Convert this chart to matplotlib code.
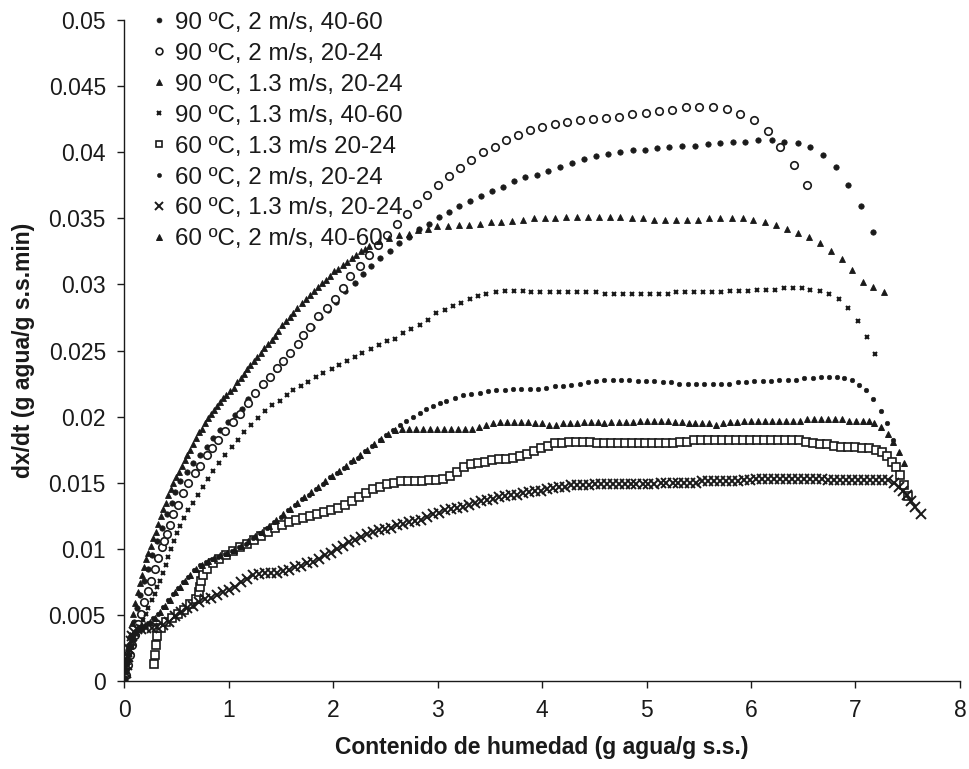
import matplotlib
matplotlib.use("Agg")
import matplotlib.pyplot as plt

plt.rcParams['font.family'] = ['Liberation Sans', 'DejaVu Sans']

labels = ["90 ºC, 2 m/s, 40-60", "90 ºC, 2 m/s, 20-24", "90 ºC, 1.3 m/s, 20-24",
          "90 ºC, 1.3 m/s, 40-60", "60 ºC, 1.3 m/s 20-24", "60 ºC, 2 m/s, 20-24",
          "60 ºC, 1.3 m/s, 20-24", "60 ºC, 2 m/s, 40-60"]

# 90 ºC, 2 m/s, 40-60 (filled dots)
s1_x = [0.010, 0.020, 0.030, 0.050, 0.067, 0.096, 0.124, 0.153, 0.191, 0.229, 0.268, 0.316, 0.363, 0.411,
        0.459, 0.488, 0.535, 0.599, 0.663, 0.727, 0.791, 0.854, 0.918, 0.997, 1.061, 1.125, 1.188, 1.252,
        1.319, 1.386, 1.453, 1.520, 1.587, 1.654, 1.721, 1.797, 1.874, 1.950, 2.033, 2.113, 2.208, 2.288,
        2.368, 2.454, 2.543, 2.632, 2.725, 2.820, 2.919, 3.014, 3.110, 3.206, 3.308, 3.413, 3.518, 3.626,
        3.731, 3.840, 3.951, 4.060, 4.175, 4.286, 4.401, 4.519, 4.630, 4.749, 4.869, 4.988, 5.098, 5.220,
        5.341, 5.466, 5.586, 5.705, 5.825, 5.946, 6.071, 6.198, 6.319, 6.446, 6.565, 6.692, 6.814, 6.931,
        7.053, 7.163]
s1_y = [0.0002, 0.0008, 0.0016, 0.0025, 0.0034, 0.0045, 0.0055, 0.0065, 0.0076, 0.0085, 0.0095, 0.0106,
        0.0116, 0.0126, 0.0135, 0.0143, 0.0151, 0.0158, 0.0165, 0.0171, 0.0177, 0.0184, 0.0190, 0.0196,
        0.0201, 0.0206, 0.0213, 0.0218, 0.0224, 0.0230, 0.0236, 0.0242, 0.0248, 0.0255, 0.0261, 0.0268,
        0.0275, 0.0281, 0.0287, 0.0295, 0.0301, 0.0308, 0.0314, 0.0320, 0.0325, 0.0331, 0.0336, 0.0342,
        0.0346, 0.0351, 0.0355, 0.0359, 0.0363, 0.0367, 0.0371, 0.0374, 0.0378, 0.0381, 0.0383, 0.0386,
        0.0389, 0.0392, 0.0395, 0.0397, 0.0399, 0.0400, 0.0402, 0.0402, 0.0403, 0.0404, 0.0405, 0.0405,
        0.0406, 0.0407, 0.0408, 0.0408, 0.0409, 0.0409, 0.0408, 0.0407, 0.0404, 0.0398, 0.0389, 0.0375,
        0.0359, 0.0340]

# 90 ºC, 2 m/s, 20-24 (open circles)
s2_x = [0.019, 0.038, 0.057, 0.076, 0.105, 0.134, 0.163, 0.191, 0.225, 0.258, 0.292, 0.325, 0.359, 0.382,
        0.408, 0.440, 0.471, 0.519, 0.567, 0.615, 0.679, 0.727, 0.791, 0.838, 0.902, 0.966, 1.039, 1.109,
        1.188, 1.252, 1.332, 1.396, 1.460, 1.520, 1.587, 1.666, 1.714, 1.778, 1.858, 1.938, 2.017, 2.097,
        2.167, 2.256, 2.345, 2.428, 2.517, 2.613, 2.708, 2.804, 2.900, 3.005, 3.110, 3.212, 3.324, 3.435,
        3.547, 3.659, 3.770, 3.888, 4.003, 4.120, 4.238, 4.359, 4.487, 4.615, 4.735, 4.863, 4.997, 5.118,
        5.246, 5.380, 5.507, 5.634, 5.768, 5.899, 6.026, 6.160, 6.281, 6.415, 6.532]
s2_y = [0.00045, 0.0012, 0.0020, 0.0027, 0.0035, 0.0043, 0.0051, 0.0060, 0.0068, 0.0076, 0.0085, 0.0093,
        0.0101, 0.0106, 0.0111, 0.0118, 0.0126, 0.0133, 0.0142, 0.0150, 0.0157, 0.0163, 0.0171, 0.0176,
        0.0182, 0.0189, 0.0196, 0.0202, 0.0210, 0.0218, 0.0225, 0.0230, 0.0237, 0.0242, 0.0248, 0.0255,
        0.0262, 0.0268, 0.0276, 0.0282, 0.0289, 0.0297, 0.0306, 0.0314, 0.0322, 0.0330, 0.0337, 0.0346,
        0.0353, 0.0361, 0.0368, 0.0375, 0.0382, 0.0388, 0.0394, 0.0400, 0.0404, 0.0409, 0.0413, 0.0417,
        0.0419, 0.0421, 0.0423, 0.0424, 0.0425, 0.0426, 0.0427, 0.0429, 0.0430, 0.0431, 0.0432, 0.0434,
        0.0434, 0.0434, 0.0433, 0.0429, 0.0424, 0.0416, 0.0404, 0.0390, 0.0375]

# 90 ºC, 1.3 m/s, 20-24 (filled triangles)
s3_x = [0.010, 0.024, 0.041, 0.057, 0.074, 0.089, 0.105, 0.129, 0.153, 0.172, 0.191, 0.210, 0.232, 0.256,
        0.280, 0.306, 0.328, 0.352, 0.376, 0.400, 0.424, 0.447, 0.471, 0.500, 0.529, 0.554, 0.583, 0.607,
        0.631, 0.660, 0.688, 0.717, 0.743, 0.774, 0.806, 0.832, 0.860, 0.889, 0.918, 0.946, 0.975, 1.013,
        1.049, 1.083, 1.115, 1.147, 1.176, 1.205, 1.240, 1.274, 1.307, 1.338, 1.377, 1.412, 1.444, 1.475,
        1.511, 1.549, 1.584, 1.619, 1.659, 1.699, 1.740, 1.778, 1.816, 1.858, 1.893, 1.931, 1.969, 2.011,
        2.051, 2.091, 2.132, 2.177, 2.218, 2.263, 2.304, 2.345, 2.438, 2.533, 2.629, 2.728, 2.814, 2.909,
        2.995, 3.100, 3.206, 3.301, 3.404, 3.509, 3.611, 3.716, 3.817, 3.920, 4.025, 4.127, 4.232, 4.334,
        4.439, 4.541, 4.646, 4.749, 4.859, 4.965, 5.070, 5.179, 5.284, 5.389, 5.497, 5.602, 5.705, 5.815,
        5.921, 6.023, 6.135, 6.240, 6.345, 6.453, 6.552, 6.661, 6.766, 6.867, 6.967, 7.068, 7.170, 7.269]
s3_y = [0.0011, 0.0019, 0.0026, 0.0035, 0.0044, 0.0051, 0.0059, 0.0067, 0.0074, 0.0080, 0.0086, 0.0092,
        0.0097, 0.0102, 0.0108, 0.0113, 0.0119, 0.0125, 0.0130, 0.0135, 0.0141, 0.0145, 0.0150, 0.0154,
        0.0158, 0.0163, 0.0167, 0.0171, 0.0175, 0.0179, 0.0184, 0.0188, 0.0191, 0.0195, 0.0199, 0.0202,
        0.0205, 0.0208, 0.0211, 0.0214, 0.0216, 0.0219, 0.0222, 0.0226, 0.0229, 0.0232, 0.0236, 0.0239,
        0.0242, 0.0245, 0.0248, 0.0252, 0.0255, 0.0258, 0.0261, 0.0265, 0.0269, 0.0272, 0.0275, 0.0278,
        0.0282, 0.0286, 0.0289, 0.0292, 0.0295, 0.0298, 0.0301, 0.0303, 0.0306, 0.0310, 0.0312, 0.0315,
        0.0317, 0.0320, 0.0322, 0.0325, 0.0327, 0.0329, 0.0333, 0.0335, 0.0337, 0.0338, 0.0341, 0.0342,
        0.0344, 0.0344, 0.0345, 0.0345, 0.0346, 0.0347, 0.0347, 0.0348, 0.0349, 0.0350, 0.0350, 0.0350,
        0.0351, 0.0351, 0.0351, 0.0351, 0.0351, 0.0351, 0.0350, 0.0350, 0.0349, 0.0349, 0.0349, 0.0349,
        0.0349, 0.0350, 0.0350, 0.0350, 0.0350, 0.0349, 0.0347, 0.0345, 0.0342, 0.0339, 0.0336, 0.0331,
        0.0325, 0.0319, 0.0311, 0.0302, 0.0298, 0.0294]

# 90 ºC, 1.3 m/s, 40-60 (small crosses)
s4_x = [0.010, 0.024, 0.038, 0.057, 0.076, 0.100, 0.124, 0.153, 0.182, 0.210, 0.234, 0.265, 0.292, 0.320,
        0.344, 0.373, 0.402, 0.425, 0.449, 0.478, 0.507, 0.540, 0.574, 0.615, 0.660, 0.707, 0.755, 0.803,
        0.856, 0.908, 0.966, 1.030, 1.090, 1.152, 1.214, 1.281, 1.348, 1.415, 1.491, 1.558, 1.619, 1.689,
        1.762, 1.836, 1.905, 1.986, 2.058, 2.129, 2.208, 2.282, 2.359, 2.441, 2.517, 2.591, 2.670, 2.750,
        2.830, 2.909, 2.990, 3.069, 3.148, 3.228, 3.308, 3.387, 3.468, 3.556, 3.642, 3.728, 3.817, 3.898,
        3.984, 4.073, 4.159, 4.248, 4.334, 4.423, 4.512, 4.601, 4.687, 4.773, 4.859, 4.943, 5.029, 5.115,
        5.201, 5.287, 5.373, 5.459, 5.545, 5.631, 5.717, 5.803, 5.889, 5.975, 6.061, 6.147, 6.233, 6.319,
        6.405, 6.489, 6.568, 6.661, 6.750, 6.838, 6.925, 7.020, 7.106, 7.189]
s4_y = [0.0002, 0.0008, 0.0014, 0.0020, 0.0026, 0.0031, 0.0036, 0.0041, 0.0046, 0.0051, 0.0055, 0.0061,
        0.0066, 0.0071, 0.0076, 0.0082, 0.0088, 0.0094, 0.0100, 0.0106, 0.0112, 0.0117, 0.0123, 0.0129,
        0.0135, 0.0141, 0.0147, 0.0153, 0.0159, 0.0165, 0.0171, 0.0177, 0.0182, 0.0188, 0.0194, 0.0199,
        0.0204, 0.0209, 0.0212, 0.0216, 0.0220, 0.0223, 0.0226, 0.0230, 0.0233, 0.0236, 0.0239, 0.0242,
        0.0245, 0.0248, 0.0251, 0.0254, 0.0257, 0.0259, 0.0263, 0.0266, 0.0269, 0.0273, 0.0278, 0.0281,
        0.0284, 0.0286, 0.0289, 0.0291, 0.0293, 0.0294, 0.0295, 0.0295, 0.0295, 0.0294, 0.0294, 0.0294,
        0.0294, 0.0294, 0.0294, 0.0294, 0.0294, 0.0293, 0.0293, 0.0293, 0.0293, 0.0293, 0.0293, 0.0293,
        0.0293, 0.0294, 0.0294, 0.0294, 0.0294, 0.0294, 0.0294, 0.0295, 0.0295, 0.0295, 0.0296, 0.0296,
        0.0296, 0.0297, 0.0297, 0.0297, 0.0296, 0.0295, 0.0293, 0.0289, 0.0282, 0.0272, 0.0260, 0.0247]

# 60 ºC, 1.3 m/s 20-24 (open squares)
s5_x = [0.287, 0.296, 0.306, 0.320, 0.354, 0.402, 0.459, 0.516, 0.574, 0.631, 0.688, 0.717, 0.727, 0.736,
        0.755, 0.793, 0.851, 0.908, 0.975, 1.042, 1.109, 1.176, 1.243, 1.310, 1.377, 1.444, 1.511, 1.577,
        1.644, 1.711, 1.778, 1.845, 1.912, 1.979, 2.046, 2.113, 2.180, 2.247, 2.314, 2.381, 2.447, 2.514,
        2.581, 2.648, 2.715, 2.782, 2.849, 2.916, 2.983, 3.050, 3.117, 3.184, 3.250, 3.317, 3.384, 3.451,
        3.518, 3.585, 3.652, 3.719, 3.786, 3.853, 3.920, 3.987, 4.054, 4.120, 4.187, 4.254, 4.321, 4.388,
        4.455, 4.522, 4.589, 4.656, 4.723, 4.790, 4.857, 4.924, 4.990, 5.057, 5.124, 5.191, 5.258, 5.325,
        5.392, 5.459, 5.526, 5.593, 5.660, 5.727, 5.793, 5.860, 5.927, 5.994, 6.061, 6.128, 6.195, 6.262,
        6.329, 6.396, 6.463, 6.530, 6.597, 6.663, 6.730, 6.797, 6.864, 6.931, 6.998, 7.065, 7.132, 7.199,
        7.256, 7.304, 7.352, 7.390, 7.428, 7.467, 7.505]
s5_y = [0.0013, 0.0020, 0.0027, 0.0034, 0.0040, 0.0045, 0.0048, 0.0051, 0.0054, 0.0058, 0.0062, 0.0067,
        0.0071, 0.0076, 0.0080, 0.0085, 0.0089, 0.0092, 0.0095, 0.0098, 0.0101, 0.0104, 0.0107, 0.0110,
        0.0113, 0.0116, 0.0118, 0.0120, 0.0122, 0.0123, 0.0125, 0.0126, 0.0128, 0.0129, 0.0131, 0.0133,
        0.0136, 0.0139, 0.0142, 0.0145, 0.0147, 0.0149, 0.0150, 0.0151, 0.0151, 0.0151, 0.0151, 0.0152,
        0.0152, 0.0153, 0.0155, 0.0158, 0.0162, 0.0164, 0.0165, 0.0166, 0.0167, 0.0168, 0.0168, 0.0169,
        0.0170, 0.0172, 0.0174, 0.0176, 0.0178, 0.0180, 0.0180, 0.0181, 0.0181, 0.0181, 0.0181, 0.0180,
        0.0180, 0.0180, 0.0180, 0.0180, 0.0180, 0.0180, 0.0180, 0.0180, 0.0180, 0.0180, 0.0180, 0.0181,
        0.0181, 0.0182, 0.0182, 0.0182, 0.0182, 0.0182, 0.0182, 0.0182, 0.0182, 0.0182, 0.0182, 0.0182,
        0.0182, 0.0182, 0.0182, 0.0182, 0.0182, 0.0181, 0.0180, 0.0179, 0.0179, 0.0178, 0.0177, 0.0177,
        0.0177, 0.0176, 0.0176, 0.0175, 0.0173, 0.0170, 0.0166, 0.0162, 0.0156, 0.0148, 0.0140]

# 60 ºC, 2 m/s, 20-24 (small dots)
s6_x = [0.010, 0.019, 0.029, 0.043, 0.057, 0.076, 0.105, 0.143, 0.182, 0.229, 0.277, 0.325, 0.373, 0.421,
        0.468, 0.516, 0.564, 0.612, 0.669, 0.727, 0.784, 0.841, 0.899, 0.966, 1.033, 1.099, 1.166, 1.233,
        1.300, 1.367, 1.434, 1.501, 1.568, 1.635, 1.702, 1.769, 1.836, 1.902, 1.969, 2.036, 2.103, 2.170,
        2.237, 2.304, 2.371, 2.447, 2.511, 2.575, 2.639, 2.703, 2.766, 2.830, 2.894, 2.957, 3.021, 3.085,
        3.164, 3.244, 3.324, 3.403, 3.483, 3.563, 3.642, 3.722, 3.802, 3.881, 3.961, 4.041, 4.120, 4.200,
        4.280, 4.359, 4.439, 4.519, 4.598, 4.678, 4.758, 4.837, 4.917, 4.997, 5.076, 5.156, 5.236, 5.315,
        5.395, 5.475, 5.554, 5.634, 5.714, 5.793, 5.873, 5.953, 6.032, 6.112, 6.192, 6.272, 6.351, 6.431,
        6.511, 6.590, 6.670, 6.750, 6.819, 6.893, 6.967, 7.036, 7.100, 7.170, 7.244, 7.297, 7.355]
s6_y = [0.0001, 0.0007, 0.0013, 0.0020, 0.0026, 0.0033, 0.0036, 0.0039, 0.0041, 0.0044, 0.0048, 0.0051,
        0.0056, 0.0061, 0.0066, 0.0070, 0.0075, 0.0079, 0.0084, 0.0088, 0.0090, 0.0092, 0.0094, 0.0096,
        0.0098, 0.0101, 0.0104, 0.0108, 0.0112, 0.0116, 0.0120, 0.0124, 0.0129, 0.0133, 0.0138, 0.0141,
        0.0145, 0.0149, 0.0154, 0.0157, 0.0161, 0.0166, 0.0169, 0.0174, 0.0178, 0.0182, 0.0186, 0.0190,
        0.0194, 0.0197, 0.0200, 0.0203, 0.0206, 0.0208, 0.0210, 0.0212, 0.0214, 0.0216, 0.0217, 0.0218,
        0.0219, 0.0220, 0.0220, 0.0221, 0.0221, 0.0221, 0.0221, 0.0222, 0.0223, 0.0223, 0.0224, 0.0225,
        0.0226, 0.0227, 0.0228, 0.0228, 0.0228, 0.0228, 0.0227, 0.0227, 0.0227, 0.0226, 0.0226, 0.0225,
        0.0225, 0.0225, 0.0225, 0.0225, 0.0225, 0.0225, 0.0226, 0.0226, 0.0227, 0.0227, 0.0227, 0.0228,
        0.0228, 0.0228, 0.0229, 0.0229, 0.0230, 0.0230, 0.0230, 0.0229, 0.0228, 0.0224, 0.0220, 0.0213,
        0.0204, 0.0195, 0.0182]

# 60 ºC, 1.3 m/s, 20-24 (crosses)
s7_x = [0.010, 0.019, 0.029, 0.038, 0.048, 0.062, 0.076, 0.096, 0.124, 0.163, 0.210, 0.268, 0.316, 0.373,
        0.430, 0.488, 0.545, 0.602, 0.660, 0.717, 0.774, 0.832, 0.889, 0.946, 1.004, 1.061, 1.119, 1.176,
        1.233, 1.291, 1.348, 1.405, 1.463, 1.520, 1.577, 1.635, 1.692, 1.750, 1.807, 1.864, 1.922, 1.979,
        2.036, 2.094, 2.151, 2.208, 2.266, 2.323, 2.380, 2.438, 2.495, 2.553, 2.610, 2.667, 2.725, 2.782,
        2.839, 2.897, 2.954, 3.011, 3.069, 3.126, 3.184, 3.241, 3.298, 3.356, 3.413, 3.470, 3.528, 3.585,
        3.642, 3.700, 3.757, 3.815, 3.872, 3.929, 3.987, 4.044, 4.101, 4.159, 4.216, 4.273, 4.331, 4.388,
        4.446, 4.503, 4.560, 4.618, 4.675, 4.732, 4.790, 4.847, 4.904, 4.962, 5.019, 5.076, 5.134, 5.191,
        5.249, 5.306, 5.363, 5.421, 5.478, 5.535, 5.593, 5.650, 5.707, 5.765, 5.822, 5.880, 5.937, 5.994,
        6.052, 6.109, 6.166, 6.224, 6.281, 6.338, 6.396, 6.453, 6.511, 6.568, 6.625, 6.683, 6.740, 6.797,
        6.855, 6.912, 6.969, 7.027, 7.084, 7.141, 7.199, 7.256, 7.314, 7.371, 7.419, 7.457, 7.495, 7.533,
        7.572, 7.626]
s7_y = [0.0001, 0.0006, 0.0012, 0.0018, 0.0024, 0.0030, 0.0034, 0.0037, 0.0039, 0.0039, 0.0040, 0.0040,
        0.0041, 0.0042, 0.0045, 0.0049, 0.0052, 0.0055, 0.0057, 0.0060, 0.0062, 0.0063, 0.0065, 0.0067,
        0.0069, 0.0071, 0.0075, 0.0077, 0.0080, 0.0081, 0.0082, 0.0082, 0.0082, 0.0083, 0.0084, 0.0086,
        0.0087, 0.0089, 0.0090, 0.0092, 0.0095, 0.0097, 0.0100, 0.0102, 0.0105, 0.0107, 0.0109, 0.0111,
        0.0113, 0.0114, 0.0115, 0.0116, 0.0118, 0.0119, 0.0120, 0.0121, 0.0122, 0.0124, 0.0126, 0.0127,
        0.0129, 0.0130, 0.0131, 0.0132, 0.0133, 0.0135, 0.0136, 0.0137, 0.0138, 0.0139, 0.0140, 0.0141,
        0.0141, 0.0142, 0.0143, 0.0144, 0.0144, 0.0145, 0.0146, 0.0147, 0.0147, 0.0148, 0.0148, 0.0148,
        0.0148, 0.0149, 0.0149, 0.0149, 0.0149, 0.0149, 0.0149, 0.0149, 0.0149, 0.0149, 0.0149, 0.0149,
        0.0150, 0.0150, 0.0150, 0.0150, 0.0150, 0.0150, 0.0150, 0.0151, 0.0151, 0.0151, 0.0151, 0.0151,
        0.0151, 0.0151, 0.0152, 0.0152, 0.0153, 0.0153, 0.0153, 0.0153, 0.0153, 0.0153, 0.0153, 0.0153,
        0.0153, 0.0153, 0.0153, 0.0153, 0.0152, 0.0152, 0.0152, 0.0152, 0.0152, 0.0152, 0.0152, 0.0152,
        0.0152, 0.0152, 0.0152, 0.0150, 0.0147, 0.0144, 0.0141, 0.0136, 0.0132, 0.0126]

# 60 ºC, 2 m/s, 40-60 (small triangles)
s8_x = [0.010, 0.019, 0.029, 0.038, 0.053, 0.072, 0.096, 0.124, 0.163, 0.201, 0.249, 0.296, 0.344, 0.392,
        0.440, 0.488, 0.535, 0.583, 0.631, 0.688, 0.746, 0.803, 0.860, 0.918, 0.985, 1.052, 1.119, 1.185,
        1.252, 1.319, 1.386, 1.453, 1.520, 1.587, 1.654, 1.721, 1.788, 1.855, 1.922, 1.989, 2.055, 2.122,
        2.189, 2.256, 2.323, 2.390, 2.457, 2.524, 2.591, 2.658, 2.725, 2.792, 2.859, 2.925, 2.992, 3.059,
        3.126, 3.193, 3.260, 3.327, 3.394, 3.461, 3.528, 3.595, 3.662, 3.728, 3.795, 3.862, 3.929, 3.996,
        4.063, 4.130, 4.197, 4.264, 4.331, 4.398, 4.465, 4.532, 4.598, 4.665, 4.732, 4.799, 4.866, 4.933,
        5.000, 5.067, 5.134, 5.201, 5.268, 5.335, 5.402, 5.468, 5.535, 5.602, 5.669, 5.736, 5.803, 5.870,
        5.937, 6.004, 6.071, 6.138, 6.205, 6.272, 6.338, 6.405, 6.472, 6.539, 6.606, 6.673, 6.740, 6.807,
        6.874, 6.941, 7.008, 7.075, 7.132, 7.180, 7.244, 7.307, 7.355, 7.419, 7.467]
s8_y = [0.0002, 0.0008, 0.0015, 0.0022, 0.0029, 0.0034, 0.0037, 0.0039, 0.0040, 0.0042, 0.0045, 0.0048,
        0.0052, 0.0057, 0.0061, 0.0067, 0.0071, 0.0076, 0.0080, 0.0085, 0.0088, 0.0091, 0.0093, 0.0095,
        0.0097, 0.0099, 0.0102, 0.0106, 0.0110, 0.0113, 0.0117, 0.0122, 0.0126, 0.0130, 0.0135, 0.0139,
        0.0143, 0.0147, 0.0151, 0.0155, 0.0159, 0.0163, 0.0167, 0.0171, 0.0175, 0.0179, 0.0183, 0.0187,
        0.0190, 0.0191, 0.0191, 0.0191, 0.0191, 0.0191, 0.0191, 0.0191, 0.0191, 0.0191, 0.0191, 0.0191,
        0.0192, 0.0194, 0.0195, 0.0196, 0.0196, 0.0196, 0.0196, 0.0196, 0.0195, 0.0195, 0.0194, 0.0194,
        0.0195, 0.0195, 0.0195, 0.0196, 0.0196, 0.0196, 0.0195, 0.0196, 0.0196, 0.0196, 0.0196, 0.0197,
        0.0197, 0.0197, 0.0197, 0.0197, 0.0196, 0.0196, 0.0195, 0.0195, 0.0195, 0.0195, 0.0194, 0.0195,
        0.0196, 0.0196, 0.0197, 0.0197, 0.0197, 0.0197, 0.0197, 0.0197, 0.0197, 0.0197, 0.0197, 0.0198,
        0.0198, 0.0198, 0.0198, 0.0198, 0.0198, 0.0197, 0.0197, 0.0197, 0.0197, 0.0195, 0.0192, 0.0187,
        0.0181, 0.0173, 0.0165]

x_ticks = [0, 1, 2, 3, 4, 5, 6, 7, 8]
y_ticks = [0, 0.005, 0.01, 0.015, 0.02, 0.025, 0.03, 0.035, 0.04, 0.045, 0.05]
y_ticklabels = ["0", "0.005", "0.01", "0.015", "0.02", "0.025", "0.03", "0.035", "0.04", "0.045", "0.05"]

ink = "#1a1a1a"
fig = plt.figure(figsize=(9.69, 7.69), dpi=100)
ax = fig.add_axes([0.128, 0.1144, 0.8627, 0.8596])

series = [
    (s1_x, s1_y, dict(marker='o', ms=3.9, mfc=ink, mec=ink, mew=0.5)),
    (s2_x, s2_y, dict(marker='o', ms=5.4, mfc='white', mec=ink, mew=1.2)),
    (s3_x, s3_y, dict(marker='^', ms=4.8, mfc=ink, mec=ink, mew=0.6)),
    (s4_x, s4_y, dict(marker='x', ms=3.5, mfc=ink, mec=ink, mew=1.5)),
    (s5_x, s5_y, dict(marker='s', ms=5.2, mfc='white', mec=ink, mew=1.2)),
    (s6_x, s6_y, dict(marker='o', ms=3.3, mfc=ink, mec=ink, mew=0.4)),
    (s7_x, s7_y, dict(marker='x', ms=6.5, mfc=ink, mec=ink, mew=1.4)),
    (s8_x, s8_y, dict(marker='^', ms=4.6, mfc=ink, mec=ink, mew=0.7)),
]
for (xs, ys, st), lab in zip(series, labels):
    ax.plot(xs, ys, linestyle='none', label=lab, **st)

ax.set_xlim(0, 8)
ax.set_ylim(0, 0.05)
ax.set_xticks(x_ticks)
ax.set_xticklabels([str(v) for v in x_ticks])
ax.set_yticks(y_ticks)
ax.set_yticklabels(y_ticklabels)
for side in ['top', 'right']:
    ax.spines[side].set_visible(False)
for side in ['left', 'bottom']:
    ax.spines[side].set_color(ink)
    ax.spines[side].set_linewidth(1.0)
ax.tick_params(direction='out', length=5, width=1, colors=ink, labelsize=16.5, pad=8)
ax.set_xlabel("Contenido de humedad (g agua/g s.s.)", fontsize=16.5, fontweight='bold', color=ink, labelpad=10)
ax.set_ylabel("dx/dt (g agua/g s.s.min)", fontsize=16.5, fontweight='bold', color=ink, labelpad=10)

leg = ax.legend(loc='upper left', bbox_to_anchor=(0.022, 1.027), frameon=False, fontsize=17.4,
                handlelength=0.6, handletextpad=0.35, labelspacing=0.37, borderaxespad=0,
                numpoints=1, markerscale=0.9)
for t in leg.get_texts():
    t.set_color(ink)

fig.savefig("out.png", dpi=100, facecolor='white')
